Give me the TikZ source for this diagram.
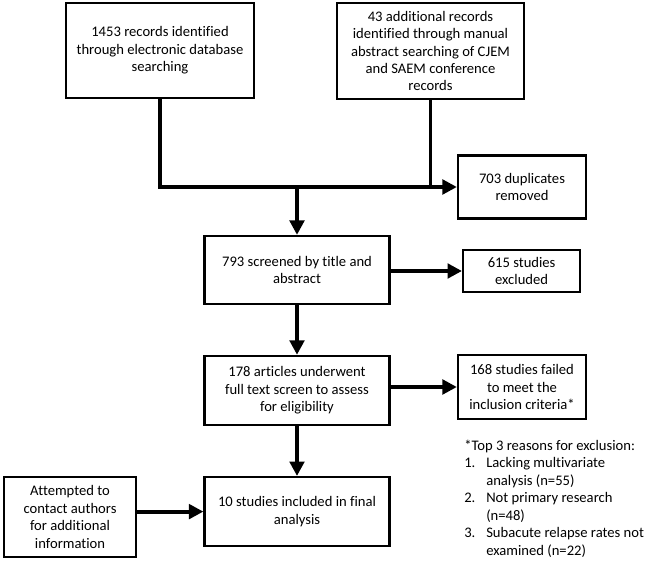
\documentclass[tikz,border=0pt]{standalone}
\usepackage{fontspec}
\setmainfont{Carlito}[Ligatures=NoCommon]
\usetikzlibrary{arrows.meta}

\begin{document}
\begin{tikzpicture}[
		box/.style={draw,line width=1.6pt,align=center,inner sep=2pt},
		link/.style={line width=2.8pt,-{Triangle[length=0.36cm,width=0.36cm]}},
		font=\fontsize{10.4}{12.4}\selectfont]
	\useasboundingbox (0,0) rectangle (16.25,-14.15);
	\node[box,minimum width=4.7cm,minimum height=2.375cm] (recdb) at (4.0,-1.2625) {1453 records identified\\through electronic database\\searching};
	\node[box,minimum width=4.675cm,minimum height=2.4cm] (recman) at (10.7625,-1.275) {43 additional records\\identified through manual\\abstract searching of CJEM\\and SAEM conference\\records};
	\node[box,minimum width=3.2cm,minimum height=1.575cm] (dupl) at (13.05,-4.675) {703 duplicates\\removed};
	\node[box,minimum width=4.625cm,minimum height=1.7cm] (screen) at (7.425,-6.75) {793 screened by title and\\abstract};
	\node[box,minimum width=2.925cm,minimum height=1.05cm] (excl) at (13.04,-6.775) {615 studies\\excluded};
	\node[box,minimum width=4.625cm,minimum height=1.725cm] (fulltext) at (7.425,-9.76) {178 articles underwent\\full text screen to assess\\for eligibility};
	\node[box,minimum width=3.2cm,minimum height=1.6cm] (failed) at (13.05,-9.675) {168 studies failed\\to meet the\\inclusion criteria*};
	\node[box,minimum width=4.625cm,minimum height=1.725cm] (final) at (7.425,-12.79) {10 studies included in final\\analysis};
	\node[box,minimum width=3.3cm,minimum height=2.0cm] (contact) at (1.75,-12.925) {Attempted to\\contact authors\\for additional\\information};
	\node[anchor=north west,inner sep=0pt,align=left] (reasons) at (11.6,-10.95) {%
		\begin{tabular}{@{}p{0.55cm}@{}l@{}}
			\multicolumn{2}{@{}l@{}}{*Top 3 reasons for exclusion:}\\
			1. & Lacking multivariate\\
			& analysis (n=55)\\
			2. & Not primary research\\
			& (n=48)\\
			3. & Subacute relapse rates not\\
			& examined (n=22)
		\end{tabular}};
	\draw[link] (recdb.south) |- (dupl.west);
	\draw[line width=2.8pt] (recman.south) -- (recman.south |- dupl.west);
	\draw[link] (screen.north |- dupl.west) -- (screen.north);
	\draw[link] (screen.east |- excl.west) -- (excl.west);
	\draw[link] (screen.south) -- (fulltext.north);
	\draw[link] (fulltext.east |- failed.west) -- (failed.west);
	\draw[link] (fulltext.south) -- (final.north);
	\draw[link] (contact.east |- final.west) -- (final.west);
\end{tikzpicture}
\end{document}
